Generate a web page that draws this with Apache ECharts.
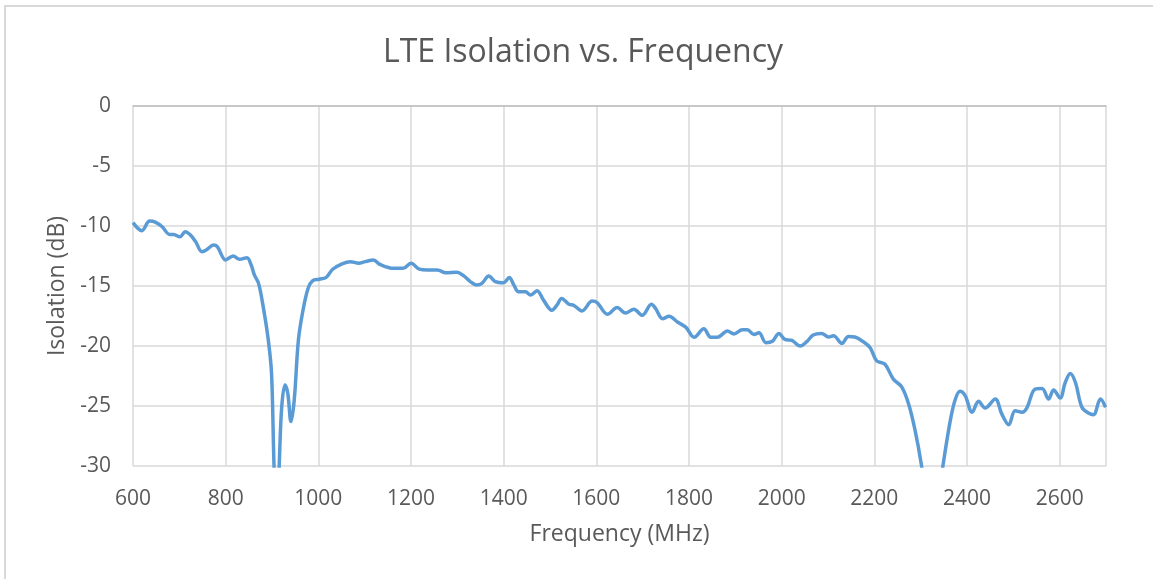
<!DOCTYPE html>
<html>
<head>
<meta charset="utf-8">
<script src="https://cdn.jsdelivr.net/npm/echarts@6/dist/echarts.min.js"></script>
<style>
  html, body { margin: 0; padding: 0; background: #fff; }
  #chart { width: 1153px; height: 579px; }
</style>
</head>
<body>
<div id="chart"></div>
<script>
// frequency (MHz) and isolation (dB)
const freqs = [
  600, 619, 636, 648, 663, 679, 688, 701, 713, 724, 735, 749, 758, 774, 782,
  800, 816, 830, 846, 855, 862, 871, 881, 892, 899, 904, 910, 916, 921, 928,
  934, 941, 948, 957, 967, 978, 988, 1002, 1017, 1031, 1049, 1069, 1087, 1101,
  1119, 1133, 1162, 1183, 1200, 1218, 1236, 1257, 1275, 1299, 1314, 1328, 1342,
  1353, 1368, 1382, 1400, 1412, 1422, 1432, 1447, 1458, 1472, 1486, 1504, 1515,
  1525, 1541, 1551, 1569, 1591, 1602, 1624, 1645, 1663, 1681, 1699, 1719, 1728,
  1743, 1757, 1775, 1793, 1811, 1832, 1847, 1861, 1883, 1897, 1915, 1926, 1940,
  1951, 1966, 1980, 1994, 2007, 2022, 2040, 2054, 2068, 2086, 2101, 2112, 2130,
  2144, 2158, 2176, 2191, 2205, 2223, 2241, 2259, 2274, 2288, 2302, 2325, 2348,
  2364, 2375, 2385, 2396, 2411, 2425, 2439, 2461, 2475, 2490, 2504, 2519, 2529,
  2547, 2562, 2576, 2587, 2601, 2612, 2623, 2634, 2648, 2663, 2673, 2688, 2699
]
const isolation = [
  -9.72, -10.39, -9.58, -9.67, -10.06, -10.7, -10.7, -10.9, -10.47, -10.75, -11.3, -12.14, -12.0, -11.58, -11.72,
  -12.83, -12.5, -12.78, -12.64, -13.25, -14.08, -14.78, -16.72, -19.5, -22.28, -29.5, -36, -29.5, -25.06, -23.25,
  -23.94, -26.3, -24.5, -19.5, -17, -15.19, -14.56, -14.44, -14.28, -13.6, -13.2, -12.97, -13.1, -12.97,
  -12.83, -13.2, -13.53, -13.53, -13.1, -13.6, -13.67, -13.67, -13.9, -13.85, -14.16, -14.63, -14.92,
  -14.78, -14.16, -14.63, -14.72, -14.3, -14.92, -15.48, -15.48, -15.76, -15.39, -16.18, -17.02, -16.6,
  -16.04, -16.52, -16.6, -17.08, -16.26, -16.4, -17.36, -16.8, -17.25, -16.94, -17.44, -16.52, -16.88,
  -17.72, -17.53, -18.0, -18.43, -19.27, -18.57, -19.27, -19.27, -18.76, -18.99, -18.65, -18.65, -19.04,
  -18.9, -19.72, -19.6, -18.95, -19.45, -19.53, -20.0, -19.64, -19.09, -18.95, -19.25, -19.14, -19.78,
  -19.2, -19.25, -19.64, -20.14, -21.24, -21.52, -22.76, -23.4, -24.83, -27.04, -30, -36, -30,
  -26.2, -24.42, -23.78, -24.14, -25.52, -24.61, -25.17, -24.42, -25.66, -26.57, -25.39, -25.52, -25.17,
  -23.59, -23.54, -24.42, -23.67, -24.34, -23.04, -22.29, -23.04, -25.11, -25.61, -25.72, -24.42, -25.11
]
const xTicks = [600, 800, 1000, 1200, 1400, 1600, 1800, 2000, 2200, 2400, 2600]
const yTicks = [0, -5, -10, -15, -20, -25, -30]

const font = '"Open Sans", "Noto Sans", sans-serif'
const textColor = '#595959'

const chart = echarts.init(document.getElementById('chart'), null, { renderer: 'canvas' })

chart.setOption({
  animation: false,
  backgroundColor: '#fff',
  title: {
    text: 'LTE Isolation vs. Frequency',
    left: 378,
    top: 32,
    textStyle: { fontFamily: font, fontSize: 32, fontWeight: 'normal', color: textColor }
  },
  graphic: [{
    type: 'rect',
    shape: { x: 5, y: 6, width: 1160, height: 590 },
    style: { fill: 'none', stroke: '#d9d9d9', lineWidth: 2 },
    silent: true
  }],
  grid: { left: 133, top: 106, right: 47, bottom: 113 },
  xAxis: {
    type: 'value',
    min: xTicks[0],
    max: 2700,
    interval: 200,
    name: 'Frequency (MHz)',
    nameLocation: 'middle',
    nameGap: 57,
    nameTextStyle: { fontFamily: font, fontSize: 23, color: textColor },
    axisLine: { show: true, lineStyle: { color: '#bfbfbf', width: 1.5 } },
    axisTick: { show: false },
    axisLabel: {
      fontFamily: font, fontSize: 21, color: textColor, margin: 23,
      formatter: v => xTicks.includes(v) ? String(v) : ''
    },
    splitLine: { show: true, lineStyle: { color: '#d9d9d9', width: 1.5 } }
  },
  yAxis: {
    type: 'value',
    min: yTicks[yTicks.length - 1],
    max: yTicks[0],
    interval: 5,
    name: 'Isolation (dB)',
    nameLocation: 'middle',
    nameGap: 64,
    nameTextStyle: { fontFamily: font, fontSize: 23, color: textColor },
    axisLine: { show: false },
    axisTick: { show: false },
    axisLabel: { fontFamily: font, fontSize: 21, color: textColor, margin: 22 },
    splitLine: { show: true, lineStyle: { color: '#d9d9d9', width: 1.5 } }
  },
  series: [{
    type: 'line',
    data: freqs.map((f, i) => [f, isolation[i]]),
    smooth: 0.35,
    showSymbol: false,
    clip: true,
    lineStyle: { color: '#5b9bd5', width: 3.5 }
  }]
})
</script>
</body>
</html>
